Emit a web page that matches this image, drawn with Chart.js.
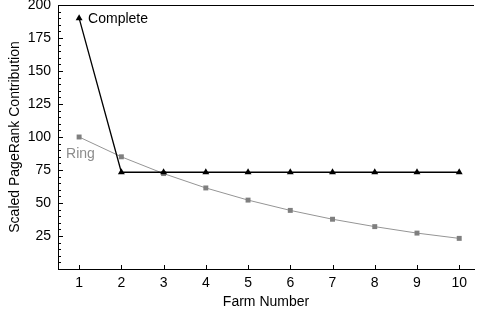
<!DOCTYPE html>
<html>
<head>
<meta charset="utf-8">
<script src="https://cdn.jsdelivr.net/npm/chart.js@4/dist/chart.umd.min.js"></script>
<style>
  html, body { margin: 0; padding: 0; background: #fff; }
  #wrap { width: 478px; height: 318px; }
</style>
</head>
<body>
<div id="wrap"><canvas id="myChart"></canvas></div>
<script>
var farms = [1, 2, 3, 4, 5, 6, 7, 8, 9, 10];
var completeVals = [190, 73.3, 73.3, 73.3, 73.3, 73.3, 73.3, 73.3, 73.3, 73.3];
var ringVals = [100, 85, 72.3, 61.4, 52.2, 44.4, 37.7, 32.1, 27.2, 23.2];
var yTicks = [25, 50, 75, 100, 125, 150, 175, 200];
var fontFam = "'Liberation Sans', Arial, sans-serif";

function toPoints(vals) {
  var pts = [];
  for (var i = 0; i < farms.length; i++) {
    pts.push({ x: farms[i], y: vals[i] });
  }
  return pts;
}

// inward tick marks, minor y ticks, top frame line and the two series labels
var framePlugin = {
  id: "frame",
  afterDraw: function (chart) {
    var c = chart.ctx;
    var xs = chart.scales.x;
    var ys = chart.scales.y;
    var a = chart.chartArea;
    c.save();
    c.strokeStyle = "#000";
    c.lineWidth = 1;
    c.beginPath();
    c.moveTo(a.left, a.top + 0.5);
    c.lineTo(a.right, a.top + 0.5);
    for (var v = 5; v < 200; v += 5) {
      var py = Math.round(ys.getPixelForValue(v)) + 0.5;
      var len = v % 25 === 0 ? 5 : 3;
      c.moveTo(a.left, py);
      c.lineTo(a.left + len, py);
    }
    for (var i = 0; i < farms.length; i++) {
      var px = Math.round(xs.getPixelForValue(farms[i])) + 0.5;
      c.moveTo(px, a.bottom);
      c.lineTo(px, a.bottom - 4);
    }
    c.stroke();

    c.font = "14px " + fontFam;
    c.textBaseline = "middle";
    c.textAlign = "left";
    c.fillStyle = "#000";
    c.fillText("Complete", xs.getPixelForValue(farms[0]) + 9, ys.getPixelForValue(completeVals[0]) + 1);
    c.fillStyle = "#8c8c8c";
    c.fillText("Ring", xs.getPixelForValue(farms[0]) - 13, ys.getPixelForValue(ringVals[0]) + 17);
    c.restore();
  }
};

var ctx = document.getElementById("myChart").getContext("2d");
var myChart = new Chart(ctx, {
  type: "line",
  data: {
    datasets: [
      {
        label: "Complete",
        data: toPoints(completeVals),
        borderColor: "#000",
        backgroundColor: "#000",
        borderWidth: 1.3,
        pointStyle: "triangle",
        pointRadius: 4,
        pointBorderWidth: 0,
        tension: 0
      },
      {
        label: "Ring",
        data: toPoints(ringVals),
        borderColor: "#959595",
        backgroundColor: "#7f7f7f",
        borderWidth: 1,
        pointStyle: "rect",
        pointRadius: 3.5,
        pointBorderWidth: 0,
        tension: 0
      }
    ]
  },
  options: {
    responsive: true,
    maintainAspectRatio: false,
    animation: false,
    clip: false,
    layout: { padding: { top: 5, right: 0, left: 0, bottom: 0 } },
    plugins: { legend: { display: false }, tooltip: { enabled: false } },
    scales: {
      x: {
        type: "linear",
        min: 0.5,
        max: 10.35,
        afterBuildTicks: function (axis) {
          axis.ticks = farms.map(function (f) { return { value: f }; });
        },
        afterFit: function (axis) {
          axis.height = 49;
          axis.paddingLeft = 0;
          axis.paddingRight = 0;
        },
        grid: { display: false, drawTicks: false },
        border: { display: true, color: "#000", width: 1 },
        ticks: {
          color: "#000",
          padding: 6,
          maxRotation: 0,
          font: { family: fontFam, size: 14 }
        },
        title: {
          display: true,
          text: "Farm Number",
          color: "#000",
          padding: { top: 7, bottom: 7 },
          font: { family: fontFam, size: 14 }
        }
      },
      y: {
        min: 0,
        max: 200,
        afterBuildTicks: function (axis) {
          axis.ticks = yTicks.map(function (t) { return { value: t }; });
        },
        afterFit: function (axis) {
          axis.width = 58;
          axis.paddingTop = 0;
          axis.paddingBottom = 0;
        },
        grid: { display: false, drawTicks: false },
        border: { display: true, color: "#000", width: 1 },
        ticks: {
          color: "#000",
          padding: 7,
          font: { family: fontFam, size: 14 }
        },
        title: {
          display: true,
          text: "Scaled PageRank Contribution",
          color: "#000",
          padding: { top: 7, bottom: 7 },
          font: { family: fontFam, size: 14 }
        }
      }
    }
  },
  plugins: [framePlugin]
});
</script>
</body>
</html>
